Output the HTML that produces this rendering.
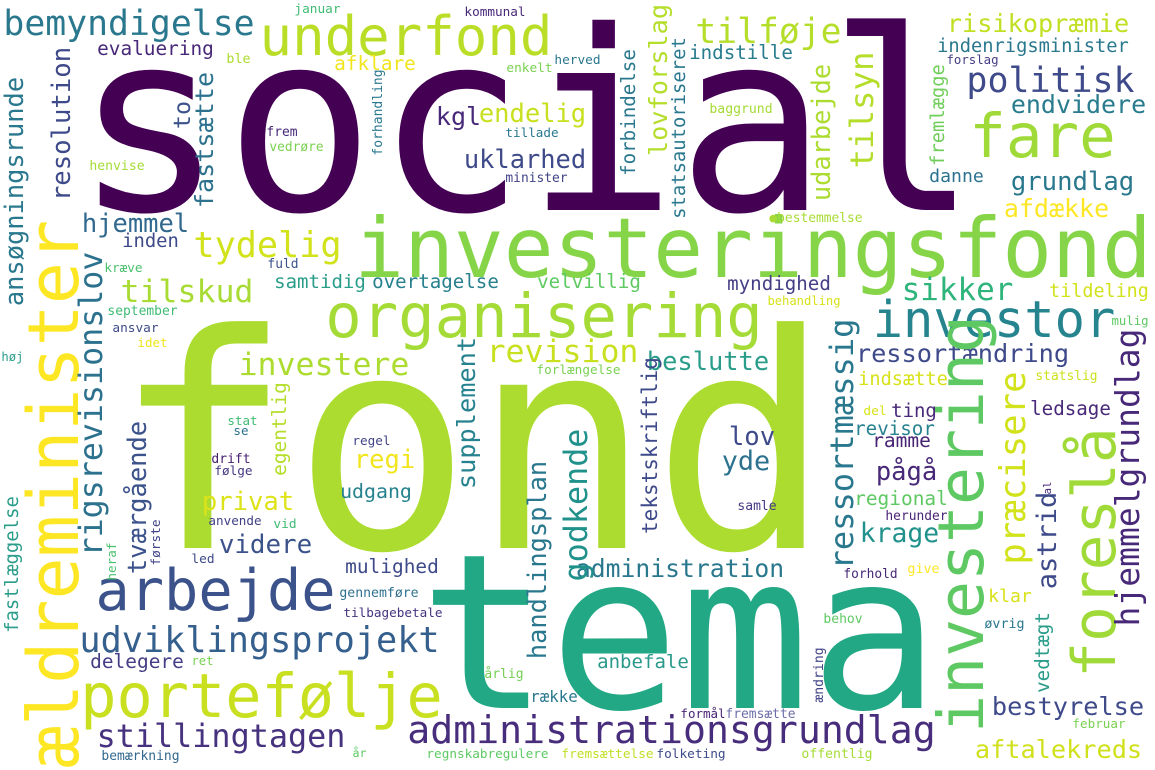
<!DOCTYPE html>
<html><head><meta charset="utf-8"><style>
html,body{margin:0;padding:0;background:#fff;}
svg{display:block;}
text{font-family:"DejaVu Sans Mono","Liberation Mono",monospace;}
</style></head><body>
<svg id="cloud" width="1155" height="770" viewBox="0 0 1155 770" xmlns="http://www.w3.org/2000/svg">
<rect width="1155" height="770" fill="#fff"/>
</svg>
<script>
// horizontal words: text, left x, baseline y, visible width, colour
const hWords = [
["social",85,210,882,"#440154"],
["fond",126,548,692,"#addc30"],
["tema",429,708,501,"#22a884"],
["investeringsfond",358,277,790,"#86d549"],
["organisering",328,337,432,"#a5db36"],
["underfond",262,55,288,"#bade28"],
["fare",972,157,141,"#a0da39"],
["investor",875,337,238,"#25848e"],
["arbejde",98,610,235,"#3b528b"],
["udviklingsprojekt",81,652,357,"#355f8d"],
["portefølje",83,717,357,"#c8e020"],
["stillingtagen",98,747,246,"#46327e"],
["administrationsgrundlag",409,743,525,"#472d7b"],
["administration",577,577,206,"#2a788e"],
["aftalekreds",976,758,165,"#d0e11c"],
["bestyrelse",993,715,150,"#3e4a89"],
["anbefale",598,668,90,"#29998b"],
["formål",681,718,44,"#482475"],
["fremsætte",726,718,69,"#6d6ea8"],
["folketing",657,758,68,"#3e4a89"],
["offentlig",802,758,70,"#a5db36"],
["fremsættelse",562,758,91,"#c2df23"],
["regnskabregulere",427,758,121,"#5ec962"],
["år",353,757,13,"#5ec962"],
["bemærkning",102,760,77,"#31688e"],
["delegere",91,668,92,"#433e85"],
["ret",192,665,21,"#7ad151"],
["årlig",485,678,38,"#75d054"],
["række",531,702,46,"#2a788e"],
["tilbagebetale",344,617,98,"#46337f"],
["gennemføre",340,597,78,"#2d708e"],
["mulighed",346,573,92,"#3e4a89"],
["videre",220,553,91,"#3b528b"],
["led",192,563,22,"#3e4a89"],
["anvende",209,525,52,"#424086"],
["vid",274,528,22,"#3fbc73"],
["privat",203,510,90,"#dde318"],
["udgang",341,498,70,"#26828e"],
["drift",212,463,38,"#482173"],
["følge",215,475,37,"#443983"],
["regi",355,468,59,"#f1e51d"],
["regel",353,445,37,"#414487"],
["stat",228,425,29,"#3fbc73"],
["se",234,435,14,"#2c728e"],
["lov",730,445,44,"#3e4a89"],
["yde",723,470,46,"#2c728e"],
["pågå",877,480,59,"#482878"],
["samle",738,510,38,"#443a83"],
["regional",855,505,92,"#5ec962"],
["herunder",886,520,61,"#482475"],
["krage",861,542,77,"#21918c"],
["forhold",844,578,53,"#482878"],
["give",908,573,31,"#fde725"],
["behov",824,623,38,"#5ec962"],
["klar",989,602,42,"#d8e219"],
["øvrig",985,628,39,"#2a788e"],
["februar",1073,728,52,"#7ad151"],
["ting",892,417,44,"#482878"],
["del",864,415,22,"#d8e219"],
["revisor",855,435,79,"#26828e"],
["ramme",873,447,57,"#482475"],
["ledsage",1031,415,79,"#482878"],
["indsætte",859,385,88,"#d8e219"],
["statslig",1036,380,61,"#cde11d"],
["bemyndigelse",5,35,248,"#2a788e"],
["evaluering",98,55,115,"#482878"],
["januar",295,13,45,"#3fbc73"],
["ble",227,63,23,"#addc30"],
["afklare",335,70,80,"#f1e51d"],
["kommunal",465,16,60,"#482878"],
["tilføje",697,43,143,"#b5de2b"],
["indstille",690,59,102,"#287c8e"],
["herved",555,64,45,"#2a788e"],
["enkelt",507,72,45,"#7ad151"],
["kgl",437,125,43,"#482878"],
["endelig",480,122,105,"#c8e020"],
["uklarhed",465,168,120,"#3e4a89"],
["tillade",506,137,52,"#2a788e"],
["minister",506,182,61,"#414487"],
["baggrund",710,113,62,"#a5db36"],
["●bestemmelse",770,222,92,"#a8db34"],
["velvillig",538,288,102,"#5ec962"],
["myndighed",728,290,102,"#433e85"],
["behandling",768,305,72,"#d8e219"],
["revision",488,362,149,"#c8e020"],
["beslutte",648,370,120,"#2a9d8a"],
["forlængelse",537,374,83,"#7ad151"],
["frem",267,136,30,"#482878"],
["vedrøre",270,151,53,"#7ad151"],
["henvise",90,170,54,"#a5db36"],
["hjemmel",83,232,105,"#31688e"],
["inden",123,247,55,"#3e4a89"],
["tydelig",195,257,145,"#d2e21b"],
["kræve",105,272,37,"#4ac16d"],
["fuld",268,268,30,"#3b528b"],
["tilskud",122,302,130,"#a8db34"],
["samtidig",275,288,90,"#2a9d8a"],
["overtagelse",373,288,125,"#27808e"],
["september",108,315,69,"#3fbc73"],
["ansvar",113,332,45,"#3e4a89"],
["idet",138,347,29,"#f1e51d"],
["høj",2,361,21,"#2a9d8a"],
["investere",240,375,168,"#addc30"],
["risikopræmie",948,32,180,"#c2df23"],
["indenrigsminister",938,52,190,"#2a788e"],
["forslag",947,64,51,"#433e85"],
["politisk",968,92,165,"#3e4a89"],
["endvidere",1012,113,133,"#287c8e"],
["danne",930,182,53,"#2c728e"],
["grundlag",1012,190,121,"#2a788e"],
["afdække",1005,217,103,"#fde725"],
["sikker",903,300,109,"#2fb47c"],
["tildeling",1050,297,98,"#d2e21b"],
["mulig",1112,325,36,"#5ec962"],
["ressortændring",857,362,211,"#3e4a89"]
];
// vertical words (read bottom-to-top): text, baseline x, bottom y, visible length, colour
const vWords = [
["ældreminister",78,765,542,"#fde725"],
["ansøgningsrunde",23,305,227,"#2a788e"],
["resolution",70,200,152,"#3e4a89"],
["to",190,128,26,"#3b528b"],
["fastsætte",213,207,134,"#2c728e"],
["forhandling",382,155,85,"#2a788e"],
["rigsrevisionslov",102,555,302,"#2c728e"],
["lovforslag",667,155,150,"#b5de2b"],
["statsautoriseret",685,218,180,"#2a788e"],
["forbindelse",635,175,125,"#2a788e"],
["udarbejde",830,200,135,"#addc30"],
["tilsyn",873,167,114,"#b5de2b"],
["fremlægge",944,165,100,"#6ece58"],
["fastlæggelse",18,632,135,"#2a9d8a"],
["heraf",116,580,37,"#4ac16d"],
["første",160,565,45,"#414487"],
["tværgående",146,573,151,"#3b528b"],
["egentlig",286,475,92,"#b5de2b"],
["handlingsplan",546,658,196,"#2a788e"],
["godkende",587,580,150,"#21918c"],
["supplement",475,488,150,"#26828e"],
["tekstskriftlig",657,533,175,"#3e4a89"],
["ressortmæssig",853,568,248,"#2a788e"],
["investering",983,730,412,"#5ec962"],
["præcisere",1025,563,190,"#d2e21b"],
["astrid",1056,588,95,"#3e4a89"],
["al",1051,494,12,"#482878"],
["foreslå",1115,675,245,"#a0da39"],
["hjemmelgrundlag",1139,625,295,"#482878"],
["vedtægt",1049,692,79,"#2a9d8a"],
["ændring",823,702,54,"#414487"]
];
const NS = "http://www.w3.org/2000/svg";
const svg = document.getElementById('cloud');
function slug(s){return s.replace(/[^a-zA-Z0-9æøåÆØÅ]/g,'').toLowerCase();}
function place(word, x, y, w, color, vertical){
  const n = [...word].length;
  const adv = w / (n - 0.15);
  const fs = adv / 0.602;
  const t = document.createElementNS(NS, 'text');
  
  
  const sx = (vertical ? y + 0.075 * adv : x - 0.075 * adv);
  if (vertical) {
    t.setAttribute('x', y + 0.075 * adv);
    t.setAttribute('y', x);
    t.setAttribute('transform', 'translate(' + x + ',' + y + ') rotate(-90) translate(' + (-y) + ',' + (-x) + ')');
    t.setAttribute('x', y - 0.075 * adv);
  } else {
    t.setAttribute('x', sx);
    t.setAttribute('y', y);
  }
  t.setAttribute('font-size', fs.toFixed(2));
  t.setAttribute('textLength', (adv * n).toFixed(2));
  t.setAttribute('lengthAdjust', 'spacingAndGlyphs');
  t.setAttribute('fill', color);
  t.textContent = word;
  svg.appendChild(t);
}
hWords.forEach(d => place(d[0], d[1], d[2], d[3], d[4], false));
vWords.forEach(d => place(d[0], d[1], d[2], d[3], d[4], true));
</script>
</body></html>
